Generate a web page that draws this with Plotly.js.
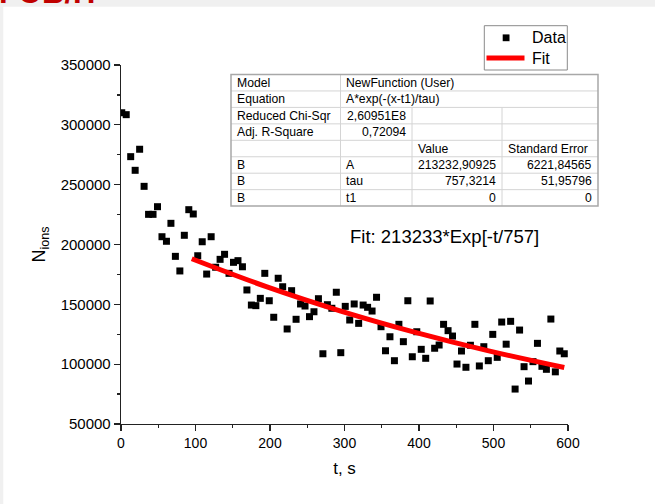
<!DOCTYPE html>
<html>
<head>
<meta charset="utf-8">
<script src="https://cdn.plot.ly/plotly-3.0.1.min.js"></script>
<style>html,body{margin:0;padding:0;background:#f0f0f0;}#chart{width:655px;height:504px;}</style>
</head>
<body>
<div id="chart"></div>
<script>
// ---- data ----
const timeS = [1, 7, 13, 19, 25, 31, 37, 43, 49, 55, 61, 67, 73, 79, 85, 91, 97, 103, 109, 115,
  121, 127, 133, 139, 145, 151, 157, 163, 169, 175, 181, 187, 193, 199, 205, 211, 217, 223, 229, 235,
  241, 247, 253, 259, 265, 271, 277, 283, 289, 295, 301, 307, 313, 319, 325, 331, 337, 343, 349, 355,
  361, 367, 373, 379, 385, 391, 397, 403, 409, 415, 421, 427, 433, 439, 445, 451, 457, 463, 469, 475,
  481, 487, 493, 499, 505, 511, 517, 523, 529, 535, 541, 547, 553, 559, 565, 571, 577, 583, 589, 595];
const nIons = [310100, 308500, 273400, 262000, 279600, 248600, 225200, 225200, 231600, 206500,
  202700, 217700, 190100, 177900, 207700, 229100, 225500, 190600, 202300, 175300,
  206500, 181000, 187600, 191800, 175900, 185100, 186500, 181400, 162000, 149400,
  148900, 155000, 175900, 153000, 139200, 171800, 164700, 129400, 161400, 137500,
  150300, 148600, 139700, 143800, 154700, 108700, 149700, 146700, 160100, 109600,
  148300, 136900, 150300, 134100, 149400, 147500, 144400, 155900, 131300, 111200,
  122900, 102900, 133300, 118800, 153000, 106200, 127100, 112400, 104900, 152800,
  113300, 116000, 133300, 128000, 123500, 100100, 111000, 97400, 115800, 133300,
  98500, 114600, 102900, 124900, 105700, 135200, 116700, 135800, 79200, 128500,
  97900, 85900, 102100, 117400, 98200, 95700, 137700, 93600, 111000, 108700];
const fitT = [95, 195, 295, 395, 495, 595];
const fitN = [188100, 164800, 144400, 126600, 110900, 97200];

const tableRows = [
  ["Model", "NewFunction (User)", null, null],
  ["Equation", "A*exp(-(x-t1)/tau)", null, null],
  ["Reduced Chi-Sqr", "2,60951E8", "", ""],
  ["Adj. R-Square", "0,72094", "", ""],
  ["", "", "Value", "Standard Error"],
  ["B", "A", "213232,90925", "6221,84565"],
  ["B", "tau", "757,3214", "51,95796"],
  ["B", "t1", "0", "0"]
];
const legendNames = ["Data", "Fit"];
const fitLabel = "Fit: 213233*Exp[-t/757]";
const xTitle = "t, s";
const yTitle = "N<sub>ions</sub>";
const slideTitle = "FOB/H";

// ---- layout helpers (pixel -> paper) ----
const W = 655, H = 504, ML = 121, MR = 87, MT = 65, MB = 80;
const PW = W - ML - MR, PH = H - MT - MB;
const PX = x => (x - ML) / PW;
const PY = y => (H - MB - y) / PH;
const FONT = "Liberation Sans, Arial, sans-serif";

const shapes = [];
const annotations = [];

// white slide area over gray margin
shapes.push({type: "rect", xref: "paper", yref: "paper", layer: "below",
  x0: PX(3.3), x1: PX(W + 2), y0: PY(H + 2), y1: PY(6.7),
  fillcolor: "#ffffff", line: {width: 0}});

// table geometry
const colX = [231, 340.5, 412, 502, 598];
const tTop = 74.5, rowH = 16.45;
const tBot = tTop + rowH * tableRows.length;
shapes.push({type: "rect", xref: "paper", yref: "paper", x0: PX(colX[0]), x1: PX(colX[4]),
  y0: PY(tBot), y1: PY(tTop), fillcolor: "#ffffff", line: {width: 0}});
for (let r = 1; r < tableRows.length; r++) {
  const y = tTop + r * rowH;
  shapes.push({type: "line", xref: "paper", yref: "paper", x0: PX(colX[0]), x1: PX(colX[4]),
    y0: PY(y), y1: PY(y), line: {color: "#d4d4d4", width: 1}});
}
shapes.push({type: "line", xref: "paper", yref: "paper", x0: PX(colX[1]), x1: PX(colX[1]),
  y0: PY(tTop), y1: PY(tBot), line: {color: "#d4d4d4", width: 1}});
for (let c = 2; c < 4; c++) {
  shapes.push({type: "line", xref: "paper", yref: "paper", x0: PX(colX[c]), x1: PX(colX[c]),
    y0: PY(tTop + 2 * rowH), y1: PY(tBot), line: {color: "#d4d4d4", width: 1}});
}
shapes.push({type: "rect", xref: "paper", yref: "paper", x0: PX(colX[0]), x1: PX(colX[4]),
  y0: PY(tBot), y1: PY(tTop), line: {color: "#a8a8a8", width: 1.5}});

const tFont = {family: FONT, size: 12.2, color: "#000"};
tableRows.forEach((row, r) => {
  const yc = PY(tTop + (r + 0.5) * rowH);
  row.forEach((txt, c) => {
    if (!txt) return;
    const leftAlign = !/^[0-9]/.test(txt);
    annotations.push({xref: "paper", yref: "paper",
      x: leftAlign ? PX(colX[c] + 3.5) : PX(colX[c + 1] - 4),
      y: yc, xanchor: leftAlign ? "left" : "right", yanchor: "middle",
      text: txt, showarrow: false, font: tFont});
  });
});

// legend box (drawn to match the reference's compact Origin legend)
const lg = {x0: 484.3, x1: 567.3, y0: 25.7, y1: 70, rows: [37.8, 58], textX: 529.5};
shapes.push({type: "rect", xref: "paper", yref: "paper", x0: PX(lg.x0), x1: PX(lg.x1),
  y0: PY(lg.y1), y1: PY(lg.y0), fillcolor: "#ffffff", line: {color: "#8a8a8a", width: 1}});
shapes.push({type: "rect", xref: "paper", yref: "paper", x0: PX(502.7), x1: PX(509.5),
  y0: PY(lg.rows[0] + 3.4), y1: PY(lg.rows[0] - 3.4), fillcolor: "#000", line: {width: 0}});
shapes.push({type: "line", xref: "paper", yref: "paper", x0: PX(486.5), x1: PX(524.5),
  y0: PY(lg.rows[1]), y1: PY(lg.rows[1]), line: {color: "#ff0000", width: 5}});
legendNames.forEach((name, i) => {
  annotations.push({xref: "paper", yref: "paper", x: PX(lg.textX), y: PY(lg.rows[i]),
    xanchor: "left", yanchor: "middle", text: name, showarrow: false,
    font: {family: FONT, size: 16, color: "#000"}});
});

annotations.push({xref: "paper", yref: "paper", x: PX(347.5), y: PY(236), xanchor: "left",
  yanchor: "middle", text: fitLabel, showarrow: false,
  font: {family: FONT, size: 18.5, color: "#000"}});

annotations.push({xref: "paper", yref: "paper", x: PX(-3), y: PY(-7), xanchor: "left",
  yanchor: "middle", text: "<b>" + slideTitle + "</b>", showarrow: false,
  font: {family: FONT, size: 31, color: "#c00000"}});

const traces = [
  {x: timeS, y: nIons, type: "scatter", mode: "markers", name: legendNames[0],
    marker: {symbol: "square", size: 7, color: "#000"}},
  {x: fitT, y: fitN, type: "scatter", mode: "lines", name: legendNames[1],
    line: {color: "#ff0000", width: 5, shape: "spline"}}
];

const axisFont = {family: FONT, size: 14, color: "#000"};
const layout = {
  width: W, height: H,
  margin: {l: ML, r: MR, t: MT, b: MB, autoexpand: false},
  paper_bgcolor: "#f0f0f0", plot_bgcolor: "rgba(0,0,0,0)",
  font: {family: FONT, color: "#000"},
  showlegend: false,
  xaxis: {range: [0, 600], tickvals: [0, 100, 200, 300, 400, 500, 600],
    showgrid: false, zeroline: false, showline: true, linecolor: "#222", linewidth: 1.3,
    ticks: "outside", ticklen: 6, tickwidth: 1.3, tickcolor: "#222",
    minor: {ticks: "outside", ticklen: 3, tickwidth: 1.2, tickcolor: "#222", dtick: 50, showgrid: false},
    tickfont: axisFont,
    title: {text: xTitle, font: {family: FONT, size: 17, color: "#000"}, standoff: 12}},
  yaxis: {range: [50000, 350000], dtick: 50000, tick0: 50000, tickformat: "d",
    showgrid: false, zeroline: false, showline: true, linecolor: "#222", linewidth: 1.3,
    ticks: "outside", ticklen: 6, tickwidth: 1.3, tickcolor: "#222",
    minor: {ticks: "outside", ticklen: 3, tickwidth: 1.2, tickcolor: "#222", dtick: 25000, showgrid: false},
    tickfont: {family: FONT, size: 15, color: "#000"},
    title: {text: yTitle, font: {family: FONT, size: 18, color: "#000"}, standoff: 10}},
  shapes: shapes,
  annotations: annotations
};

Plotly.newPlot("chart", traces, layout, {displayModeBar: false, staticPlot: true});
</script>
</body>
</html>
